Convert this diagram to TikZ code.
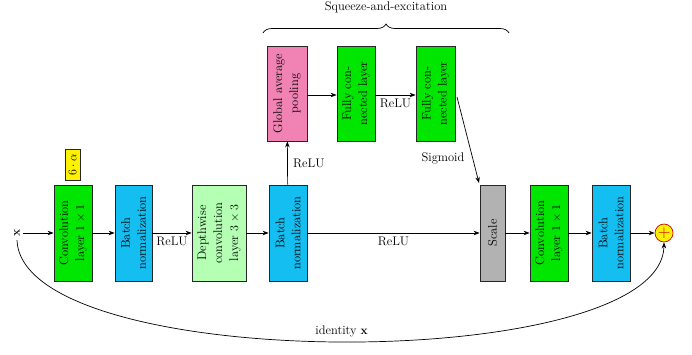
\documentclass[tikz,border=0pt]{standalone}
\usetikzlibrary{arrows.meta,decorations.pathreplacing}
\definecolor{convgreen}{RGB}{0,230,0}
\definecolor{bnblue}{RGB}{20,190,240}
\definecolor{dwgreen}{RGB}{180,255,180}
\definecolor{poolpink}{RGB}{240,130,180}
\definecolor{scalegray}{RGB}{178,178,178}
\begin{document}
\begin{tikzpicture}[x=1pt,y=-1pt,
  font=\fontsize{12.5}{16}\selectfont,
  >={Stealth[length=6pt,width=4.5pt]},
  layer/.style={draw=black!85,line width=0.8pt,rotate=90,align=center,
    inner sep=0pt,minimum height=#1,minimum width=96pt},
  layer/.default=38pt,
  flow/.style={->,line width=0.7pt}]
\useasboundingbox (0,0) rectangle (692,354);

% main path
\node[rotate=90] (x) at (17,233) {$\mathbf{x}$};
\node[layer,fill=convgreen] (c1) at (73,233) {Convolution\\layer $1\times1$};
\node[draw=black!85,line width=0.8pt,fill=yellow,rotate=90,inner sep=0pt,
  minimum width=31pt,minimum height=15pt] (a) at (72.5,164.5) {$6\cdot\alpha$};
\node[layer=37pt,fill=bnblue] (b1) at (133.5,233) {Batch\\normalization};
\node[layer=54pt,fill=dwgreen] (dw) at (219,233) {Depthwise\\convolution\\layer $3\times3$};
\node[layer,fill=bnblue] (b2) at (288,233) {Batch\\normalization};
\node[layer=25pt,fill=scalegray] (sc) at (492.5,233) {Scale};
\node[layer,fill=convgreen] (c2) at (549,233) {Convolution\\layer $1\times1$};
\node[layer,fill=bnblue] (b3) at (611,233) {Batch\\normalization};
\node[circle,draw=red!80!black,fill=yellow,line width=0.7pt,minimum size=18pt,
  inner sep=0pt,text=red!80!black,font=\fontsize{16}{18}\selectfont] (p) at (664,233) {$+$};

% squeeze-and-excitation branch
\node[layer=40pt,minimum width=95pt,fill=poolpink] (gap) at (287,93.5) {Global average\\pooling};
\node[layer,minimum width=95pt,fill=convgreen] (f1) at (356,93.5) {Fully con-\\nected layer};
\node[layer=39pt,minimum width=95pt,fill=convgreen] (f2) at (435.5,93.5) {Fully con-\\nected layer};

\draw[flow] (x) -- (c1);
\draw[flow] (c1) -- (b1);
\draw[flow] (b1) -- node[below] {ReLU} (dw);
\draw[flow] (dw) -- (b2);
\draw[flow] (b2) -- node[below] {ReLU} (sc);
\draw[flow] (sc) -- (c2);
\draw[flow] (c2) -- (b3);
\draw[flow] (b3) -- (p);
\draw[flow] (b2) -- node[right,xshift=2pt] {ReLU} (gap);
\draw[flow] (gap.south |- 0,95) -- (f1.north |- 0,95);
\draw[flow] (f1.south |- 0,95) -- node[below] {ReLU} (f2.north |- 0,95);
\coordinate (fo) at (457,97);
\coordinate (si) at (479,183);
\draw[flow] (fo) -- (si);
\node (sig) at (443,158) {Sigmoid};

% brace over the branch
\coordinate (bl) at (263,33);
\coordinate (br) at (509,33);
\draw[line width=0.7pt,decorate,decoration={brace,amplitude=9pt}] (bl) -- (br);
\node (se) at (386,7) {Squeeze-and-excitation};

% skip connection
\draw[flow] (x.west) .. controls (22,375) and (662,375) .. node[pos=0.5,above=1pt] {identity $\mathbf{x}$} (p.south);
\end{tikzpicture}
\end{document}
